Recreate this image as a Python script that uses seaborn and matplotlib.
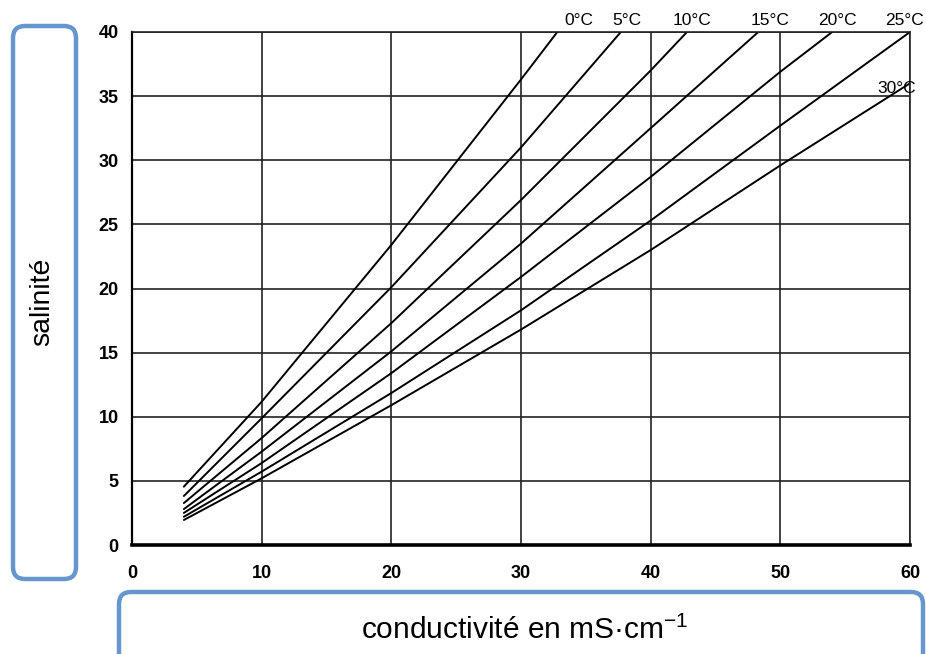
import numpy as np
import pandas as pd
import matplotlib
matplotlib.use("Agg")
import matplotlib.pyplot as plt
import seaborn as sns
from matplotlib.patches import FancyBboxPatch

# salinité en fonction de la conductivité, une courbe par température
temperatures = ["0°C", "5°C", "10°C", "15°C", "20°C", "25°C", "30°C"]
cond_0 = [4, 10, 20, 30, 32.8]
sal_0 = [4.55, 11.17, 23.4, 36.3, 40]
cond_5 = [4, 10, 20, 30, 37.7]
sal_5 = [3.82, 9.88, 20.1, 31.0, 40]
cond_10 = [4, 10, 20, 30, 40, 42.8]
sal_10 = [3.27, 8.34, 17.3, 26.9, 37.0, 40]
cond_15 = [4, 10, 20, 30, 40, 48.3]
sal_15 = [2.8, 7.28, 15.1, 23.5, 32.5, 40]
cond_20 = [4, 10, 20, 30, 40, 50, 54.0]
sal_20 = [2.5, 6.39, 13.4, 20.9, 28.7, 36.9, 40]
cond_25 = [4, 10, 20, 30, 40, 50, 60]
sal_25 = [2.2, 5.72, 11.85, 18.3, 25.3, 32.7, 40]
cond_30 = [4, 10, 20, 30, 40, 50, 60]
sal_30 = [1.95, 5.2, 10.9, 16.8, 23.0, 29.6, 36.0]

# position des étiquettes de température
label_x = [34.5, 38.2, 43.2, 49.2, 54.4, 59.6, 59.0]
label_y = [40.3, 40.3, 40.3, 40.3, 40.3, 40.3, 35.6]

x_ticks = [0, 10, 20, 30, 40, 50, 60]
y_ticks = [0, 5, 10, 15, 20, 25, 30, 35, 40]

all_cond = [cond_0, cond_5, cond_10, cond_15, cond_20, cond_25, cond_30]
all_sal = [sal_0, sal_5, sal_10, sal_15, sal_20, sal_25, sal_30]
rows = []
for t, cs, ss in zip(temperatures, all_cond, all_sal):
    for c, s in zip(cs, ss):
        rows.append({"temp": t, "cond": c, "sal": s})
df = pd.DataFrame(rows)

sns.set_style("white")
plt.rcParams["font.family"] = ["Liberation Sans", "DejaVu Sans"]
plt.rcParams["text.color"] = "black"
plt.rcParams["xtick.color"] = "black"
plt.rcParams["ytick.color"] = "black"

fig = plt.figure(figsize=(9.26, 6.54), dpi=100)
ax = fig.add_axes([132 / 926, 109 / 654, 778 / 926, 513 / 654])

sns.lineplot(data=df, x="cond", y="sal", hue="temp", palette=["black"] * 7,
             linewidth=1.4, legend=False, sort=False, ax=ax)

ax.set_xlim(0, 60)
ax.set_ylim(0, 40)
ax.set_xticks(x_ticks)
ax.set_yticks(y_ticks)
ax.grid(True, color="#222222", linewidth=1.2)
ax.set_axisbelow(True)
for side in ["top", "right"]:
    ax.spines[side].set_color("#222222")
    ax.spines[side].set_linewidth(1.2)
ax.spines["left"].set_color("black")
ax.spines["left"].set_linewidth(1.6)
ax.spines["bottom"].set_color("black")
ax.spines["bottom"].set_linewidth(2.6)
ax.tick_params(axis="both", direction="inout", length=7, width=1.2, color="black",
               labelcolor="black", labelsize=13)
ax.tick_params(axis="x", pad=11)
ax.tick_params(axis="y", pad=6)
for lab in ax.get_xticklabels() + ax.get_yticklabels():
    lab.set_fontweight("bold")
ax.set_xlabel("")
ax.set_ylabel("")

for t, lx, ly in zip(temperatures, label_x, label_y):
    ax.text(lx, ly, t, ha="center", va="bottom" if ly > 40 else "center",
            fontsize=12.5, color="black", clip_on=False)

# cadres arrondis des titres d'axes
box_kw = dict(boxstyle="round,pad=0,rounding_size=0.12", facecolor="white",
              edgecolor="#6597CE", linewidth=3.2, transform=fig.dpi_scale_trans,
              clip_on=False, zorder=0.5)
fig.patches.append(FancyBboxPatch((0.13, 0.75), 0.63, 5.53, **box_kw))
fig.patches.append(FancyBboxPatch((1.19, -0.3), 8.04, 0.92, **box_kw))

fig.text(0.42 / 9.26, 3.52 / 6.54, "salinité", rotation=90, ha="center", va="center",
         fontsize=20.5, color="black")
fig.text(5.25 / 9.26, 0.24 / 6.54, r"conductivité en mS·cm$^{\mathregular{-1}}$",
         ha="center", va="center", fontsize=21.5, color="black")

fig.savefig("out.png", dpi=100)
